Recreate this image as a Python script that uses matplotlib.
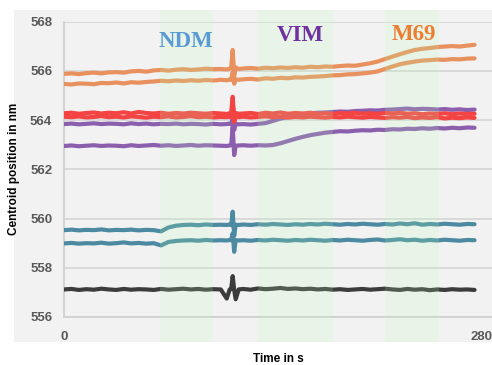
import matplotlib
matplotlib.use('Agg')
import matplotlib.pyplot as plt
from matplotlib.patches import Rectangle

# time axis (s): 5 s grid plus a denser block around the injection spike
times = ([0, 5, 10, 15, 20, 25, 30, 35, 40, 45, 50, 55, 60, 65, 70, 75, 80, 85, 90, 95, 100, 105]
         + [109, 111, 112, 113, 114, 115, 117]
         + [120, 125, 130, 135, 140, 145, 150, 155, 160, 165, 170, 175, 180, 185, 190, 195,
            200, 205, 210, 215, 220, 225, 230, 235, 240, 245, 250, 255, 260, 265, 270, 275])

orange_upper = [565.88, 565.90, 565.87, 565.91, 565.93, 565.90, 565.94, 565.95, 565.93, 565.98, 566.00,
                565.97, 566.02, 566.04, 566.01, 566.05, 566.07, 566.04, 566.06, 566.09, 566.07, 566.08,
                566.06, 566.09, 566.12, 566.85, 565.80, 566.14, 566.08,
                566.10, 566.12, 566.09, 566.13, 566.11, 566.14, 566.12, 566.15, 566.13, 566.17, 566.15,
                566.18, 566.17, 566.20, 566.22, 566.21, 566.26, 566.31, 566.38, 566.48, 566.58, 566.68,
                566.77, 566.85, 566.90, 566.93, 566.97, 566.99, 567.01, 566.99, 567.03, 567.06]
orange_lower = [565.47, 565.45, 565.49, 565.48, 565.46, 565.51, 565.50, 565.53, 565.49, 565.54, 565.52,
                565.55, 565.57, 565.60, 565.58, 565.61, 565.59, 565.62, 565.60, 565.63, 565.61, 565.64,
                565.62, 565.65, 565.63, 565.95, 565.48, 565.66, 565.64,
                565.66, 565.68, 565.65, 565.70, 565.68, 565.72, 565.70, 565.74, 565.73, 565.76, 565.77,
                565.79, 565.82, 565.83, 565.86, 565.87, 565.90, 565.93, 565.98, 566.08, 566.18, 566.27,
                566.33, 566.38, 566.42, 566.44, 566.46, 566.45, 566.48, 566.47, 566.50, 566.51]
red_upper = [564.28, 564.30, 564.26, 564.29, 564.31, 564.27, 564.30, 564.28, 564.32, 564.27, 564.33,
             564.29, 564.27, 564.30, 564.26, 564.29, 564.27, 564.30, 564.28, 564.26, 564.29, 564.27,
             564.25, 564.28, 564.30, 564.95, 564.05, 564.29, 564.26,
             564.27, 564.29, 564.25, 564.30, 564.27, 564.31, 564.26, 564.29, 564.27, 564.30, 564.26,
             564.28, 564.25, 564.29, 564.27, 564.30, 564.26, 564.28, 564.25, 564.29, 564.27, 564.30,
             564.26, 564.28, 564.24, 564.27, 564.25, 564.28, 564.24, 564.27, 564.25, 564.26]
red_lower = [564.14, 564.12, 564.15, 564.11, 564.13, 564.16, 564.12, 564.14, 564.11, 564.15, 564.13,
             564.10, 564.14, 564.12, 564.15, 564.11, 564.13, 564.16, 564.12, 564.14, 564.11, 564.13,
             564.12, 564.14, 564.11, 564.70, 563.92, 564.13, 564.12,
             564.14, 564.11, 564.13, 564.15, 564.12, 564.14, 564.10, 564.13, 564.11, 564.14, 564.12,
             564.10, 564.13, 564.11, 564.14, 564.12, 564.10, 564.13, 564.11, 564.09, 564.12, 564.10,
             564.13, 564.08, 564.11, 564.09, 564.12, 564.07, 564.10, 564.08, 564.11, 564.09]
purple_upper = [563.84, 563.86, 563.83, 563.85, 563.87, 563.84, 563.86, 563.85, 563.83, 563.87, 563.84,
                563.86, 563.83, 563.85, 563.84, 563.86, 563.83, 563.85, 563.84, 563.82, 563.85, 563.83,
                563.84, 563.86, 563.83, 564.05, 563.60, 563.85, 563.83,
                563.84, 563.82, 563.85, 563.88, 563.97, 564.06, 564.13, 564.19, 564.23, 564.27, 564.30,
                564.31, 564.33, 564.35, 564.34, 564.37, 564.38, 564.40, 564.39, 564.42, 564.43, 564.45,
                564.47, 564.44, 564.46, 564.45, 564.43, 564.45, 564.42, 564.44, 564.41, 564.43]
purple_lower = [562.95, 562.97, 562.94, 562.96, 562.98, 562.95, 562.97, 562.96, 562.94, 562.98, 562.95,
                562.97, 562.99, 562.96, 562.98, 562.95, 562.97, 562.99, 562.96, 562.98, 562.97, 562.96,
                562.95, 562.97, 562.98, 563.72, 562.58, 562.96, 562.97,
                562.98, 562.96, 562.98, 562.97, 562.99, 563.06, 563.15, 563.24, 563.32, 563.39, 563.44,
                563.49, 563.52, 563.55, 563.54, 563.57, 563.59, 563.58, 563.61, 563.60, 563.63, 563.62,
                563.65, 563.64, 563.67, 563.65, 563.68, 563.66, 563.69, 563.67, 563.70, 563.69]
teal_upper = [559.53, 559.55, 559.52, 559.54, 559.53, 559.56, 559.52, 559.54, 559.53, 559.55, 559.52,
              559.54, 559.53, 559.48, 559.64, 559.71, 559.74, 559.75, 559.73, 559.76, 559.74, 559.75,
              559.74, 559.76, 559.73, 560.28, 559.30, 559.75, 559.74,
              559.76, 559.74, 559.77, 559.75, 559.78, 559.76, 559.74, 559.77, 559.75, 559.78, 559.76,
              559.79, 559.77, 559.75, 559.78, 559.76, 559.79, 559.77, 559.75, 559.78, 559.76, 559.80,
              559.77, 559.81, 559.75, 559.78, 559.76, 559.79, 559.77, 559.75, 559.78, 559.77]
teal_lower = [558.99, 559.01, 558.98, 559.00, 558.99, 559.02, 558.98, 559.00, 559.03, 558.99, 559.01,
              558.98, 559.00, 558.91, 559.05, 559.09, 559.11, 559.12, 559.10, 559.13, 559.11, 559.12,
              559.11, 559.13, 559.12, 559.40, 558.65, 559.12, 559.11,
              559.12, 559.10, 559.13, 559.11, 559.14, 559.12, 559.10, 559.13, 559.11, 559.14, 559.12,
              559.10, 559.13, 559.11, 559.14, 559.12, 559.10, 559.13, 559.15, 559.11, 559.13, 559.16,
              559.12, 559.14, 559.10, 559.13, 559.11, 559.14, 559.12, 559.10, 559.13, 559.12]
dark = [557.12, 557.14, 557.10, 557.13, 557.11, 557.15, 557.12, 557.10, 557.14, 557.11, 557.13,
        557.12, 557.10, 557.14, 557.11, 557.13, 557.15, 557.12, 557.14, 557.11, 557.13, 557.12,
        556.75, 557.12, 557.14, 557.66, 557.10, 556.72, 557.12,
        557.14, 557.11, 557.16, 557.13, 557.15, 557.18, 557.14, 557.16, 557.13, 557.15, 557.12,
        557.14, 557.11, 557.13, 557.10, 557.12, 557.14, 557.11, 557.13, 557.15, 557.12, 557.10,
        557.14, 557.11, 557.13, 557.09, 557.12, 557.10, 557.13, 557.11, 557.12, 557.10]

# treatment windows (s) and their labels
bands = [(64.5, 100), (130, 180.5), (215, 251)]
band_labels = ['NDM', 'VIM', 'M69']
label_pos = [(81.7, 567.21), (158, 567.42), (234.4, 567.46)]
label_colors = ['#5b9bd5', '#7030a0', '#ed7d31']

y_ticks = [556, 558, 560, 562, 564, 566, 568]
x_ticks = [0, 280]

fig = plt.figure(figsize=(4.92, 3.65), dpi=100)
fig.patches.append(Rectangle((14 / 492, 23 / 365), 478 / 492, 332 / 365,
                             transform=fig.transFigure, facecolor='#f2f2f2',
                             edgecolor='none', zorder=-5))
ax = fig.add_axes([64 / 492, 48 / 365, 428 / 492, 295.3 / 365])
ax.set_facecolor('#f2f2f2')

series = [(orange_upper, '#e8915e'), (orange_lower, '#e8915e'),
          (purple_upper, '#8c5fae'), (purple_lower, '#8c5fae'),
          (red_upper, '#f44343'), (red_lower, '#f44343'),
          (teal_upper, '#4b8aa1'), (teal_lower, '#4b8aa1'),
          (dark, '#3c3c3c')]
for vals, col in series:
    ax.plot(times, vals, color=col, lw=3.0, solid_joinstyle='round',
            solid_capstyle='round', zorder=3)

for (x0, x1) in bands:
    ax.axvspan(x0, x1, ymin=-0.085, ymax=1.04, color='#b4ffb4', alpha=0.17,
               lw=0, clip_on=False, zorder=4)

for txt, (x, y), col in zip(band_labels, label_pos, label_colors):
    ax.text(x, y, txt, color=col, fontsize=16.5, fontweight='bold',
            family='Liberation Serif', ha='center', va='center', zorder=5)

ax.set_xlim(0, 286.7)
ax.set_ylim(556, 568)
ax.set_xticks(x_ticks)
ax.set_yticks(y_ticks)
ax.grid(axis='y', color='#d4d4d4', lw=1.2, zorder=1)
ax.set_axisbelow(True)
for s in ['top', 'right']:
    ax.spines[s].set_visible(False)
for s in ['left', 'bottom']:
    ax.spines[s].set_color('#d0d0d0')
    ax.spines[s].set_linewidth(1.3)
ax.tick_params(length=0, labelsize=9.5, labelcolor='#595959')
ax.tick_params(axis='y', pad=8.5)
ax.tick_params(axis='x', pad=10)
for lab in ax.get_xticklabels() + ax.get_yticklabels():
    lab.set_fontfamily('Liberation Sans')
    lab.set_fontweight('bold')

ax.set_xlabel('Time in s', fontsize=8.5, fontweight='bold', family='Liberation Sans')
ax.set_ylabel('Centroid position in nm', fontsize=8.5, fontweight='bold', family='Liberation Sans')
ax.xaxis.set_label_coords(0.5, -0.122)
ax.yaxis.set_label_coords(-0.103, 0.5)

fig.savefig('out.png', dpi=100, facecolor='white')
